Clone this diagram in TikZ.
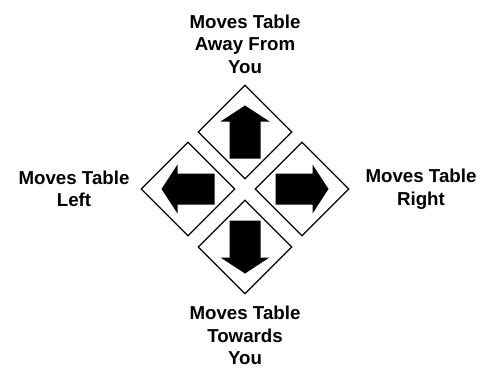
\documentclass[tikz,border=0pt]{standalone}
\usepackage{fontspec}
\setmainfont{Liberation Sans}
\usetikzlibrary{shapes.geometric}
\begin{document}
\begin{tikzpicture}[x=1pt,y=-1pt,
  pad/.style={draw=black, line width=1.2pt, diamond, aspect=1, inner sep=0pt,
    minimum width=94pt, minimum height=94pt, fill=white},
  lbl/.style={font=\fontsize{18.7}{22.5}\selectfont\bfseries, align=center, inner sep=0pt},
  bigarrow/.pic={\fill[black] (0,-26.5) -- (24.5,-10.5) -- (15.5,-10.5) -- (15.5,26.5)
      -- (-15.5,26.5) -- (-15.5,-10.5) -- (-24.5,-10.5) -- cycle;}]
\useasboundingbox[fill=white] (0,0) rectangle (493,369);
\node[pad] (up) at (245,132) {};
\node[pad] (left) at (188,189) {};
\node[pad] (right) at (302,189) {};
\node[pad] (down) at (245,247) {};
\pic at (up) {bigarrow};
\pic[rotate=90] at (left) {bigarrow};
\pic[rotate=-90] at (right) {bigarrow};
\pic[rotate=180] at (down) {bigarrow};
\node[lbl] (tup) at (245,44) {Moves Table\\Away From\\You};
\node[lbl] (tleft) at (74,189) {Moves Table\\Left};
\node[lbl] (tright) at (421,189) {Moves Table\\Right};
\node[lbl] (tdown) at (245,335.5) {Moves Table\\Towards\\You};
\end{tikzpicture}
\end{document}
